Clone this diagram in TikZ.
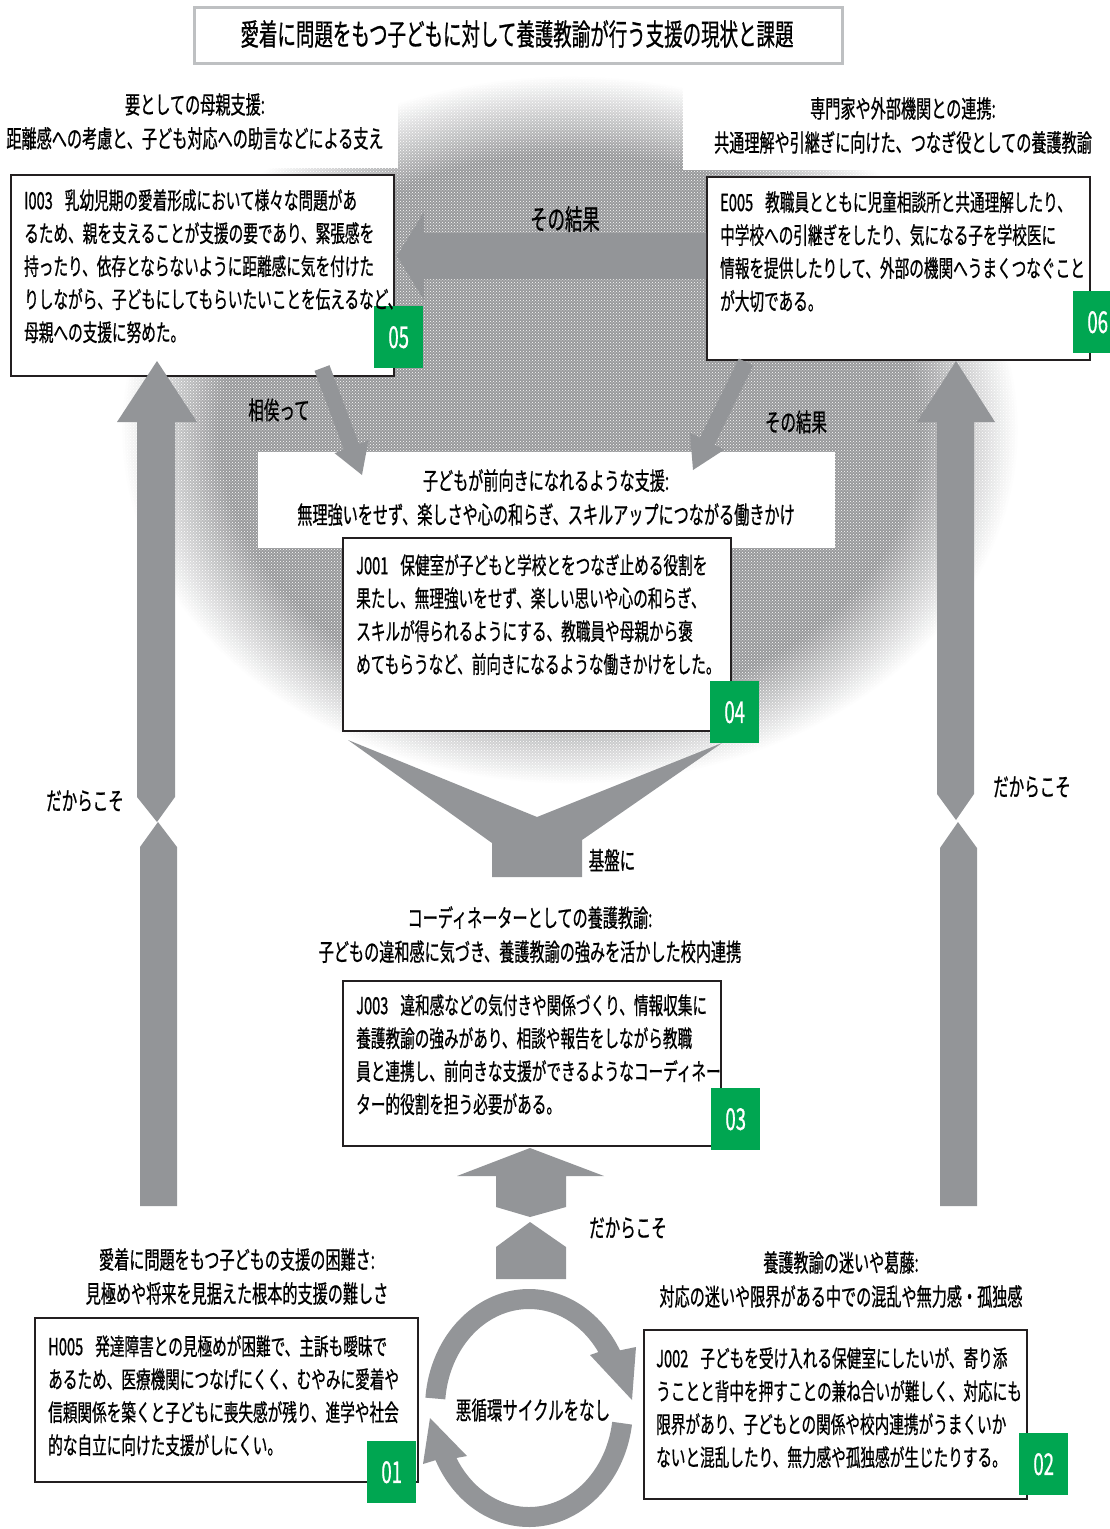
\documentclass[tikz,border=0pt]{standalone}
\usepackage{fontspec}
\setmainfont[FakeStretch=0.62,FakeBold=0.7]{Noto Sans CJK JP}
\usetikzlibrary{patterns}
\definecolor{arrowgray}{RGB}{147,149,152}
\definecolor{bggray}{RGB}{152,153,155}
\definecolor{tagreen}{RGB}{0,166,81}
\definecolor{boxblack}{RGB}{35,31,32}
\definecolor{titlegray}{RGB}{190,192,194}
\tikzset{
  boxframe/.style={draw=boxblack, line width=2pt, fill=white, inner sep=0pt, anchor=north west},
  bodytext/.style={font=\fontsize{23.6}{33}\selectfont, align=left, anchor=north west, inner sep=0pt},
  labeltext/.style={font=\fontsize{24.4}{34}\selectfont, align=center, anchor=north, inner sep=0pt},
  tagbox/.style={fill=tagreen, text=white, font=\fontsize{30}{30}\selectfont, anchor=north west, inner sep=0pt, minimum width=49pt, minimum height=62pt},
  arrowfill/.style={fill=arrowgray},
  smalllabel/.style={font=\fontsize{25}{28}\selectfont, inner sep=0pt},
  whitepatch/.style={fill=white}
}
\begin{document}
\begin{tikzpicture}[x=1pt,y=-1pt]
\useasboundingbox (0,0) rectangle (1109,1529);
% background: elliptical fade with texture
\foreach \k in {0,...,40} {
  \pgfmathsetmacro\rx{450*(1-\k*0.0055)}
  \pgfmathsetmacro\ry{355*(1-\k*0.0055)}
  \pgfmathtruncatemacro\pc{\k*100/40}
  \fill[bggray!\pc!white] (570,430) ellipse [x radius=\rx, y radius=\ry];
}
\fill[pattern=crosshatch dots, pattern color=white] (570,430) ellipse [x radius=450, y radius=355];
% white label patches
\fill[whitepatch] (0,64) rectangle (398,168);
\fill[whitepatch] (683,64) rectangle (1109,170);
\fill[whitepatch] (258,452) rectangle (835,548);

% title
\node[draw=titlegray, line width=2.5pt, fill=white, minimum width=648pt, minimum height=56pt, anchor=north west, inner sep=0pt] (title) at (193,6) {};
\node[font=\fontsize{29.8}{30}\selectfont, inner sep=0pt] (titletext) at (517,34) {愛着に問題をもつ子どもに対して養護教諭が行う支援の現状と課題};

% boxes
\node[boxframe, minimum width=383pt, minimum height=201pt] (b05) at (10,174) {};
\node[boxframe, minimum width=383pt, minimum height=183pt] (b06) at (706,176) {};
\node[boxframe, minimum width=388pt, minimum height=193pt] (b04) at (342,537) {};
\node[boxframe, minimum width=378pt, minimum height=165pt] (b03) at (342,980) {};
\node[boxframe, minimum width=383pt, minimum height=164pt] (b01) at (34,1317) {};
\node[boxframe, minimum width=383pt, minimum height=169pt] (b02) at (643,1329) {};

% big vertical arrows
\fill[arrowfill] (157,361) -- (197,422) -- (175,422) -- (175,797) -- (157,822) -- (137,797) -- (137,422) -- (117,422) -- cycle;
\fill[arrowfill] (158,822) -- (177,847) -- (177,1206) -- (140,1206) -- (140,847) -- cycle;
\fill[arrowfill] (956,361) -- (995,422) -- (974,422) -- (974,794) -- (956,820) -- (937,794) -- (937,422) -- (917,422) -- cycle;
\fill[arrowfill] (958,822) -- (977,848) -- (977,1206) -- (940,1206) -- (940,848) -- cycle;
% horizontal arrow (06 -> 05)
\fill[arrowfill] (706,233) -- (424,233) -- (424,212) -- (397,256) -- (424,300) -- (424,279) -- (706,279) -- cycle;
% diagonal arrows
\fill[arrowfill] (329.5,365.2) -- (359.0,444.1) -- (368.4,440.6) -- (362,475) -- (334.6,453.2) -- (344.0,449.7) -- (314.5,370.8) -- cycle;
\fill[arrowfill] (753.2,365.5) -- (714.3,444.8) -- (724.2,449.7) -- (693,470) -- (690.0,432.9) -- (699.9,437.8) -- (738.8,358.5) -- cycle;
% funnel
\fill[arrowfill] (348,740) -- (537,817) -- (722,743) -- (582,840) -- (582,877) -- (492,877) -- (492,843) -- cycle;
% bottom up arrow
\fill[arrowfill] (530,1148) -- (604,1176) -- (566,1176) -- (566,1207) -- (530,1217) -- (496,1207) -- (496,1176) -- (457,1176) -- cycle;
\fill[arrowfill] (530,1222) -- (566,1247) -- (566,1279) -- (496,1279) -- (496,1247) -- cycle;
% cycle arrows
\fill[arrowfill] plot[domain=185:331, samples=80] ({529+104*cos(\x)}, {1408+119*sin(\x)}) -- (636,1347) -- (632,1400) -- (590,1355) -- plot[domain=325.6:185, samples=80] ({529+84*cos(\x)}, {1408+99*sin(\x)}) -- cycle;
\fill[arrowfill] plot[domain=8:154, samples=80] ({529+104*cos(\x)}, {1408+119*sin(\x)}) -- (423,1464) -- (430,1418) -- (467,1456) -- plot[domain=149.7:8, samples=80] ({529+84*cos(\x)}, {1408+99*sin(\x)}) -- cycle;

% tags
\node[tagbox] (g05) at (374,306) {05};
\node[tagbox] (g06) at (1073,291) {06};
\node[tagbox] (g04) at (710,681) {04};
\node[tagbox] (g03) at (711,1088) {03};
\node[tagbox] (g01) at (367,1441) {01};
\node[tagbox] (g02) at (1019,1433) {02};

% box texts
\node[bodytext] (t05) at (24,189) {I003\hspace{12pt}乳幼児期の愛着形成において様々な問題があ\\るため、親を支えることが支援の要であり、緊張感を\\持ったり、依存とならないように距離感に気を付けた\\りしながら、子どもにしてもらいたいことを伝えるなど、\\母親への支援に努めた。};
\node[bodytext] (t06) at (720,191) {E005\hspace{12pt}教職員とともに児童相談所と共通理解したり、\\中学校への引継ぎをしたり、気になる子を学校医に\\情報を提供したりして、外部の機関へうまくつなぐこと\\が大切である。};
\node[bodytext] (t04) at (356,554) {J001\hspace{12pt}保健室が子どもと学校とをつなぎ止める役割を\\果たし、無理強いをせず、楽しい思いや心の和らぎ、\\スキルが得られるようにする、教職員や母親から褒\\めてもらうなど、前向きになるような働きかけをした。};
\node[bodytext] (t03) at (356,994) {J003\hspace{12pt}違和感などの気付きや関係づくり、情報収集に\\養護教諭の強みがあり、相談や報告をしながら教職\\員と連携し、前向きな支援ができるようなコーディネー\\ター的役割を担う必要がある。};
\node[bodytext] (t01) at (48,1335) {H005\hspace{12pt}発達障害との見極めが困難で、主訴も曖昧で\\あるため、医療機関につなげにくく、むやみに愛着や\\信頼関係を築くと子どもに喪失感が残り、進学や社会\\的な自立に向けた支援がしにくい。};
\node[bodytext] (t02) at (656,1347) {J002\hspace{12pt}子どもを受け入れる保健室にしたいが、寄り添\\うことと背中を押すことの兼ね合いが難しく、対応にも\\限界があり、子どもとの関係や校内連携がうまくいか\\ないと混乱したり、無力感や孤独感が生じたりする。};

% heading labels
\node[labeltext] (l05) at (195,93) {要としての母親支援:\\距離感への考慮と、子ども対応への助言などによる支え};
\node[labeltext] (l06) at (903,97) {専門家や外部機関との連携:\\共通理解や引継ぎに向けた、つなぎ役としての養護教諭};
\node[labeltext] (l04) at (546,469) {子どもが前向きになれるような支援:\\無理強いをせず、楽しさや心の和らぎ、スキルアップにつながる働きかけ};
\node[labeltext] (l03) at (530,906) {コーディネーターとしての養護教諭:\\子どもの違和感に気づき、養護教諭の強みを活かした校内連携};
\node[labeltext] (l01) at (237,1248) {愛着に問題をもつ子どもの支援の困難さ:\\見極めや将来を見据えた根本的支援の難しさ};
\node[labeltext] (l02) at (841,1251) {養護教諭の迷いや葛藤:\\対応の迷いや限界がある中での混乱や無力感・孤独感};

% arrow labels
\node[smalllabel, font=\fontsize{28}{30}\selectfont] (a1) at (565,219) {その結果};
\node[smalllabel] (a2) at (279,410) {相俟って};
\node[smalllabel] (a3) at (796,422) {その結果};
\node[smalllabel] (a4) at (85,801) {だからこそ};
\node[smalllabel] (a5) at (1032,787) {だからこそ};
\node[smalllabel] (a6) at (612,860) {基盤に};
\node[smalllabel] (a7) at (628,1228) {だからこそ};
\node[smalllabel] (a8) at (533,1410) {悪循環サイクルをなし};
\end{tikzpicture}
\end{document}
